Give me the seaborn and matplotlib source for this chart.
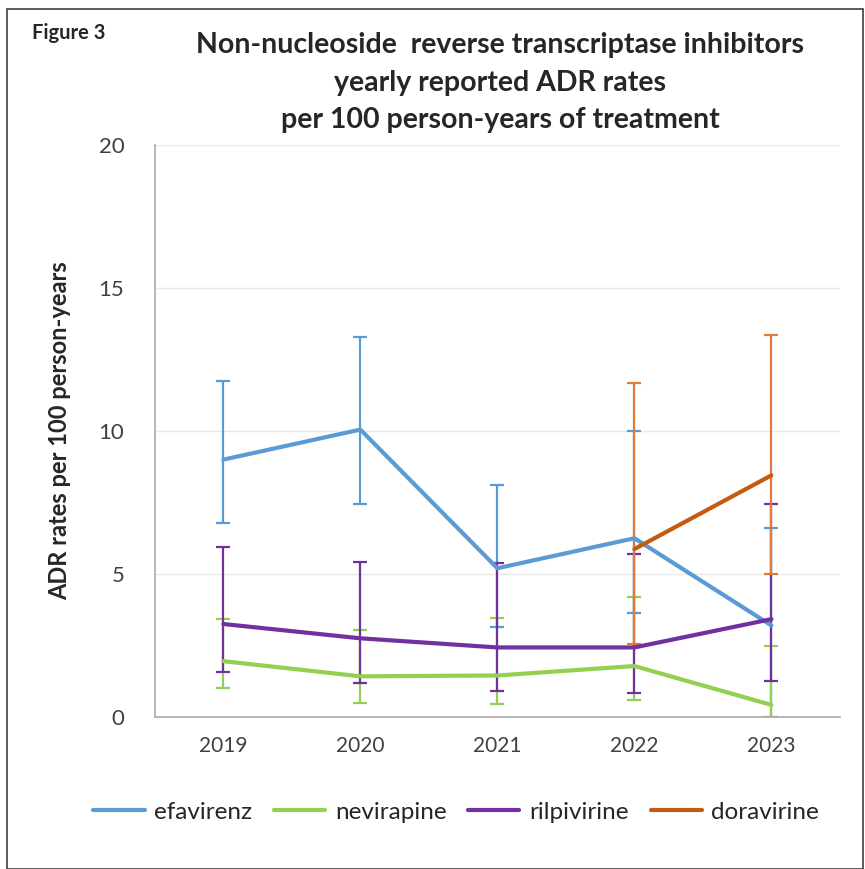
import pandas as pd
import seaborn as sns
import matplotlib.pyplot as plt
from matplotlib.patches import Rectangle

# datos
years = ['2019', '2020', '2021', '2022', '2023']
drugs = ['efavirenz', 'nevirapine', 'rilpivirine', 'doravirine']

efavirenz = [9.0, 10.05, 5.2, 6.25, 3.2]
efavirenz_low = [6.8, 7.45, 3.15, 3.65, 0.0]
efavirenz_high = [11.75, 13.3, 8.1, 10.0, 6.6]

nevirapine = [1.95, 1.42, 1.45, 1.78, 0.42]
nevirapine_low = [1.0, 0.5, 0.45, 0.58, 0.0]
nevirapine_high = [3.42, 3.05, 3.45, 4.2, 2.47]

rilpivirine = [3.25, 2.75, 2.43, 2.43, 3.42]
rilpivirine_low = [1.56, 1.18, 0.9, 0.82, 1.26]
rilpivirine_high = [5.95, 5.42, 5.38, 5.7, 7.45]

doravirine = [None, None, None, 5.87, 8.45]
doravirine_low = [None, None, None, 2.55, 5.0]
doravirine_high = [None, None, None, 11.68, 13.37]

colors = {'efavirenz': '#5B9BD5', 'nevirapine': '#92D050',
          'rilpivirine': '#7030A0', 'doravirine': '#C55A11'}
err_colors = {'efavirenz': '#5B9BD5', 'nevirapine': '#92D050',
              'rilpivirine': '#7030A0', 'doravirine': '#E07B3C'}

# tabla larga para seaborn
rows = []
series = {
    'efavirenz': (efavirenz, efavirenz_low, efavirenz_high),
    'nevirapine': (nevirapine, nevirapine_low, nevirapine_high),
    'rilpivirine': (rilpivirine, rilpivirine_low, rilpivirine_high),
    'doravirine': (doravirine, doravirine_low, doravirine_high),
}
for d in drugs:
    vals, lo, hi = series[d]
    for i, y in enumerate(years):
        if vals[i] is not None:
            rows.append({'year': i, 'drug': d, 'rate': vals[i],
                         'low': lo[i], 'high': hi[i]})
df = pd.DataFrame(rows)

sns.set_style('white')
plt.rcParams['font.family'] = ['Lato', 'DejaVu Sans']

fig = plt.figure(figsize=(8.65, 8.69), dpi=100)
ax = fig.add_axes([0.179, 0.175, 0.792, 0.658])

# barras de error
for d in drugs:
    sub = df[df['drug'] == d]
    ax.errorbar(sub['year'], sub['rate'],
                yerr=[sub['rate'] - sub['low'], sub['high'] - sub['rate']],
                fmt='none', ecolor=err_colors[d], elinewidth=1.6,
                capsize=5, capthick=1.6, zorder=2)

sns.lineplot(data=df, x='year', y='rate', hue='drug', hue_order=drugs,
             palette=colors, linewidth=3, ax=ax, zorder=3)

ax.set_xlim(-0.5, 4.5)
ax.set_ylim(0, 20)
ax.set_xticks(range(len(years)))
ax.set_xticklabels(years)
ax.set_yticks([0, 5, 10, 15, 20])
ax.tick_params(axis='both', length=0, labelsize=15, colors='#404040')
ax.tick_params(axis='y', pad=22, labelsize=16)
ax.tick_params(axis='x', pad=14)
ax.yaxis.grid(True, color='#E8E8E8', linewidth=1)
ax.set_axisbelow(True)
for s in ['top', 'right']:
    ax.spines[s].set_visible(False)
for s in ['left', 'bottom']:
    ax.spines[s].set_color('#B0B0B0')
    ax.spines[s].set_linewidth(1.3)
ax.set_xlabel('')
ax.set_ylabel('ADR rates per 100 person-years', fontsize=17,
              fontweight='bold', labelpad=20)

ax.legend(loc='upper center', bbox_to_anchor=(0.44, -0.11), ncol=4,
          frameon=False, fontsize=17.5, handlelength=2.1, handletextpad=0.4,
          columnspacing=0.9)

fig.text(0.578, 0.948, 'Non-nucleoside  reverse transcriptase inhibitors',
         ha='center', va='center', fontsize=20.5, fontweight='bold')
fig.text(0.578, 0.905, 'yearly reported ADR rates',
         ha='center', va='center', fontsize=20.5, fontweight='bold')
fig.text(0.578, 0.862, 'per 100 person-years of treatment',
         ha='center', va='center', fontsize=20.5, fontweight='bold')
fig.text(0.037, 0.962, 'Figure 3', ha='left', va='center',
         fontsize=14.5, fontweight='bold')

# marco del grafico
fig.patches.append(Rectangle((0.008, 0.0), 0.99, 0.99, transform=fig.transFigure,
                             fill=False, edgecolor='#404040', linewidth=1.2))

plt.savefig('out.png', dpi=100)
